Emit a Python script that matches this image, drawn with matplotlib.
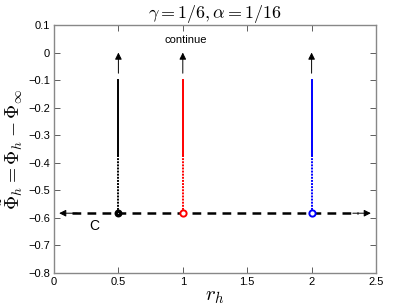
import matplotlib
matplotlib.use("Agg")
import matplotlib.pyplot as plt

plt.rcParams['font.family'] = ['Liberation Sans', 'DejaVu Sans']
plt.rcParams['mathtext.fontset'] = 'cm'

rh = [0.5, 1.0, 2.0]
colors = ['black', 'red', 'blue']
phi_base = -0.583
phi_mid = -0.37
phi_top = -0.1
arrow_tail = -0.075
arrow_head = 0.0
h_left = 0.04
h_right = 2.46

fig = plt.figure(figsize=(4.15, 3.07), dpi=100)
ax = fig.add_axes([54/415, 1-273/307, 322/415, 248/307])

for x, c in zip(rh, colors):
    ax.plot([x, x], [phi_base, phi_mid], color=c, lw=1.4, ls=(0, (1.0, 0.6)))
    ax.plot([x, x], [phi_mid, phi_top], color=c, lw=1.4)
    ax.annotate('', xy=(x, arrow_head), xytext=(x, arrow_tail),
                arrowprops=dict(arrowstyle='-|>', color='black', lw=0.7,
                                mutation_scale=10, shrinkA=0, shrinkB=0))

ax.plot([h_left + 0.1, h_right - 0.1], [phi_base, phi_base], color='black',
        lw=1.8, ls=(0, (3.5, 2.5)), zorder=3)
ax.annotate('', xy=(h_left, phi_base), xytext=(h_left + 0.14, phi_base),
            arrowprops=dict(arrowstyle='-|>', color='black', lw=0.7,
                            mutation_scale=10, shrinkA=0, shrinkB=0))
ax.annotate('', xy=(h_right, phi_base), xytext=(h_right - 0.14, phi_base),
            arrowprops=dict(arrowstyle='-|>', color='black', lw=0.7,
                            mutation_scale=10, shrinkA=0, shrinkB=0))

ax.plot(rh[0], phi_base, 'o', ms=4.5, mfc='black', mec='black', mew=1.2, zorder=4)
ax.plot(rh[0], phi_base, 'o', ms=0.8, mfc='#bbbbbb', mec='#bbbbbb', mew=0, zorder=5)
ax.plot(rh[1], phi_base, 'o', ms=4.5, mfc='white', mec='red', mew=1.4, zorder=4)
ax.plot(rh[2], phi_base, 'o', ms=4.5, mfc='white', mec='blue', mew=1.4, zorder=4)

ax.text(1.02, 0.044, 'continue', fontsize=8, ha='center', va='center')
ax.text(0.31, -0.63, 'C', fontsize=10, ha='center', va='center')

ax.set_xlim(0, 2.5)
ax.set_ylim(-0.8, 0.1)
ax.set_xticks([0, 0.5, 1, 1.5, 2, 2.5])
ax.set_xticklabels(['0', '0.5', '1', '1.5', '2', '2.5'])
ax.set_yticks([-0.8, -0.7, -0.6, -0.5, -0.4, -0.3, -0.2, -0.1, 0, 0.1])
ax.set_yticklabels(['\u22120.8', '\u22120.7', '\u22120.6', '\u22120.5', '\u22120.4',
                    '\u22120.3', '\u22120.2', '\u22120.1', '0', '0.1'])
ax.tick_params(direction='in', top=True, right=True, labelsize=8,
               length=4, width=0.6, color='#444444', pad=3)
for s in ax.spines.values():
    s.set_color('#888888')
    s.set_linewidth(1.0)

ax.set_title(r'$\gamma = 1/6, \alpha = 1/16$', fontsize=13, pad=5)
ax.set_xlabel(r'$r_h$', fontsize=15, labelpad=0)
ax.set_ylabel(r'$\tilde{\Phi}_h = \Phi_h - \Phi_\infty$', fontsize=14, labelpad=2)

fig.savefig('out.png', dpi=100)
